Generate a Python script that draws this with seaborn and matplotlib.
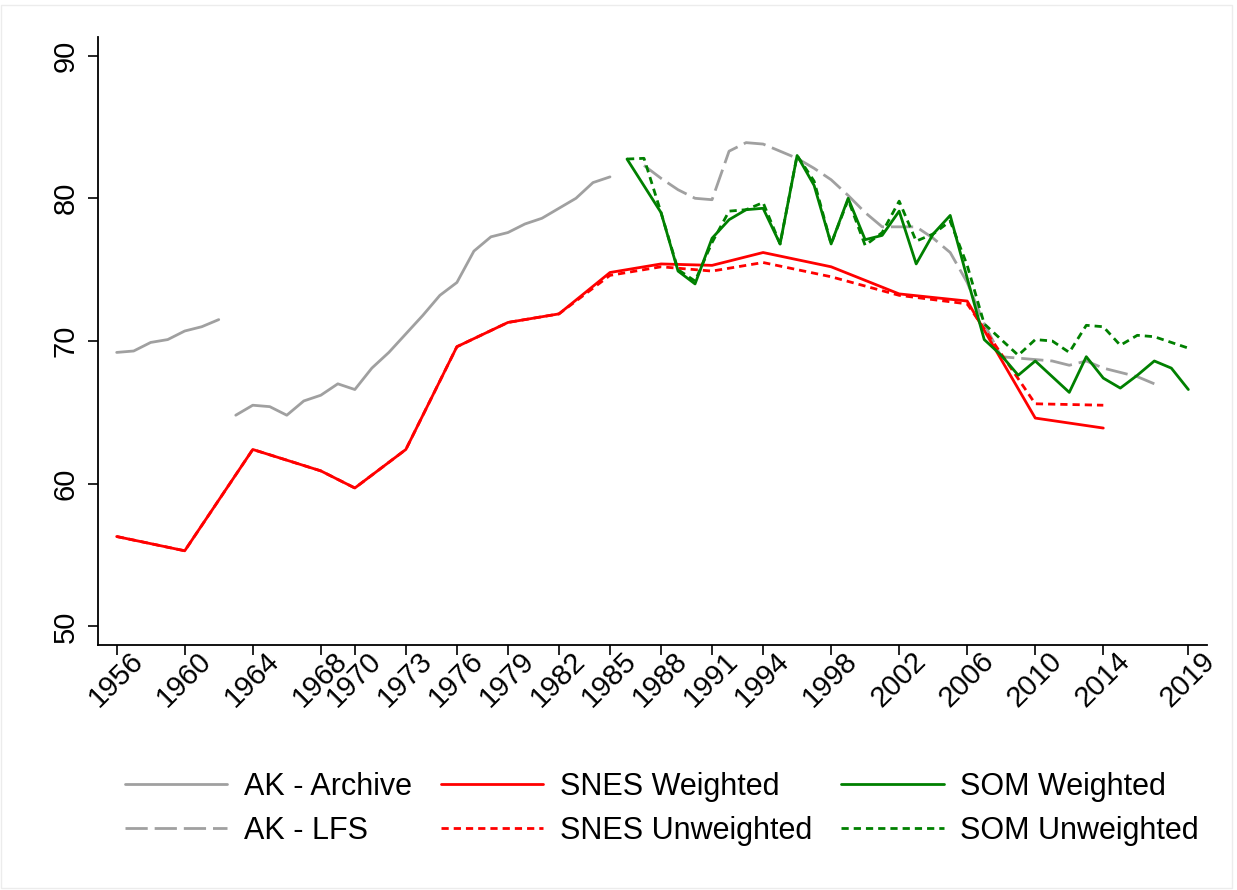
import numpy as np
import pandas as pd
import seaborn as sns
import matplotlib.pyplot as plt
from matplotlib.patches import Rectangle
from matplotlib.transforms import ScaledTranslation

sns.set_style('ticks')
plt.rcParams['font.family'] = ['Liberation Sans', 'DejaVu Sans']

# AK - Archive (two pieces, gap in 1962/63)
archive_years_a = list(range(1956, 1963))
archive_a = [69.2, 69.3, 69.9, 70.1, 70.7, 71.0, 71.5]
archive_years_b = list(range(1963, 1986))
archive_b = [64.8, 65.5, 65.4, 64.8, 65.8, 66.2, 67.0, 66.6, 68.1, 69.2, 70.5, 71.8,
             73.2, 74.1, 76.3, 77.3, 77.6, 78.2, 78.6, 79.3, 80.0, 81.1, 81.5]

# AK - LFS
lfs_years = list(range(1987, 2018))
lfs = [82.3, 81.4, 80.6, 80.0, 79.9, 83.3, 83.9, 83.8, 83.3, 82.8, 82.1, 81.3, 80.2,
       79.0, 78.0, 78.0, 78.0, 77.2, 76.2, 74.1, 71.2, 68.9, 68.8, 68.7, 68.6, 68.3,
       68.6, 68.1, 67.8, 67.5, 67.0]

# SNES
snes_years = [1956, 1960, 1964, 1968, 1970, 1973, 1976, 1979, 1982, 1985, 1988,
              1991, 1994, 1998, 2002, 2006, 2010, 2014]
snes_w = [56.3, 55.3, 62.4, 60.9, 59.7, 62.4, 69.6, 71.3, 71.9, 74.8, 75.4, 75.3,
          76.2, 75.2, 73.3, 72.8, 64.6, 63.9]
snes_u = [56.3, 55.3, 62.4, 60.9, 59.7, 62.4, 69.6, 71.3, 71.9, 74.6, 75.2, 74.9,
          75.5, 74.5, 73.2, 72.6, 65.6, 65.5]

# SOM
som_w_years = [1986] + list(range(1988, 2011)) + list(range(2012, 2020))
som_w = [82.75, 79.0, 74.9, 74.0, 77.2, 78.5, 79.2, 79.3, 76.8, 83.0, 80.9, 76.8,
         80.0, 77.1, 77.4, 79.1, 75.4, 77.5, 78.8, 74.4, 70.1, 69.0, 67.6, 68.6,
         66.4, 68.9, 67.4, 66.7, 67.6, 68.6, 68.1, 66.6]
som_u_years = list(range(1986, 2020))
som_u = [82.75, 82.8, 79.0, 75.0, 74.2, 76.9, 79.1, 79.2, 79.7, 76.8, 83.0, 81.2,
         76.8, 79.9, 76.7, 77.6, 79.8, 77.0, 77.5, 78.4, 75.3, 71.2, 70.1, 69.0,
         70.1, 70.0, 69.2, 71.1, 71.0, 69.7, 70.4, 70.3, 69.9, 69.5]

tick_years = [1956, 1960, 1964, 1968, 1970, 1973, 1976, 1979, 1982, 1985, 1988,
              1991, 1994, 1998, 2002, 2006, 2010, 2014, 2019]

gray = '#a0a0a0'
red = '#ff0000'
green = '#008000'
lw = 2.0

fig = plt.figure(figsize=(12.37, 8.9), dpi=100)
ax = fig.add_axes([0.0792, 0.2753, 0.8966, 0.6831])

sns.lineplot(x=archive_years_a, y=archive_a, ax=ax, color=gray, lw=lw, label='AK - Archive')
sns.lineplot(x=archive_years_b, y=archive_b, ax=ax, color=gray, lw=lw)
sns.lineplot(x=lfs_years, y=lfs, ax=ax, color=gray, lw=lw, label='AK - LFS')
sns.lineplot(x=snes_years, y=snes_u, ax=ax, color=red, lw=lw, label='SNES Unweighted')
sns.lineplot(x=snes_years, y=snes_w, ax=ax, color=red, lw=lw, label='SNES Weighted')
sns.lineplot(x=som_u_years, y=som_u, ax=ax, color=green, lw=lw, label='SOM Unweighted')
sns.lineplot(x=som_w_years, y=som_w, ax=ax, color=green, lw=lw, label='SOM Weighted')

lines = ax.get_lines()
lines[2].set_dashes((8, 2.5))
lines[3].set_dashes((2.6, 1.8))
lines[5].set_dashes((2.6, 1.8))

ax.set_xlim(1954.9, 2020.1)
ax.set_ylim(48.7, 91.3)
ax.set_yticks([50, 60, 70, 80, 90])
ax.set_xticks(tick_years)
ax.set_xticklabels([str(y) for y in tick_years], rotation=45, ha='right', va='center',
                   rotation_mode='anchor', fontsize=21)
ax.set_yticklabels(['50', '60', '70', '80', '90'], rotation=90, va='center', fontsize=21)
ax.tick_params(axis='both', length=7, width=1.2, color='black', labelcolor='black')
ax.tick_params(axis='x', pad=0)
ax.tick_params(axis='y', pad=6)
shift = ScaledTranslation(0.22, -0.02, fig.dpi_scale_trans)
for lab in ax.get_xticklabels():
    lab.set_transform(lab.get_transform() + shift)
ax.set_xlabel('')
ax.set_ylabel('')
sns.despine(ax=ax)
for s in ['left', 'bottom']:
    ax.spines[s].set_linewidth(1.3)
    ax.spines[s].set_color('black')

ax.get_legend().remove()
handles = {l.get_label(): l for l in lines}
order = ['AK - Archive', 'AK - LFS', 'SNES Weighted', 'SNES Unweighted',
         'SOM Weighted', 'SOM Unweighted']
fig.legend([handles[k] for k in order], order, loc='center', ncol=3,
           bbox_to_anchor=(0.535, 0.091), frameon=False, fontsize=22,
           handlelength=3.35, handletextpad=0.55, columnspacing=0.95,
           labelspacing=0.45, labelcolor='black')

fig.patches.append(Rectangle((0.001, 0.002), 0.995, 0.992, transform=fig.transFigure,
                             fill=False, edgecolor='#ececec', lw=1))

fig.savefig('out.png', dpi=100)
